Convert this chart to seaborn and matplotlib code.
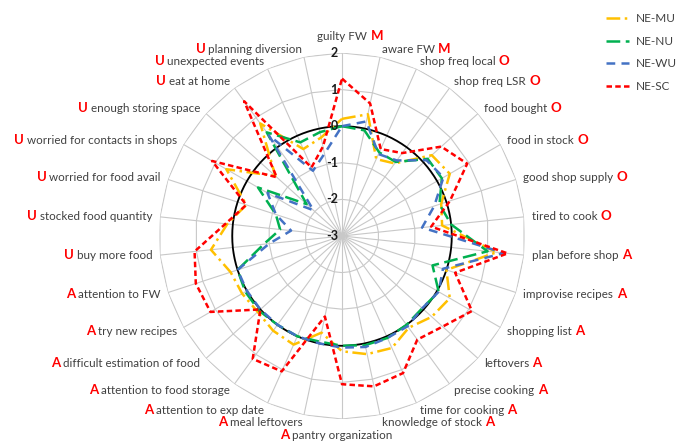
import numpy as np
import pandas as pd
import matplotlib
matplotlib.use("Agg")
import matplotlib.pyplot as plt
from matplotlib.lines import Line2D
import seaborn as sns

categories = ["guilty FW", "aware FW", "shop freq local", "shop freq LSR", "food bought",
              "food in stock", "good shop supply", "tired to cook", "plan before shop",
              "improvise recipes", "shopping list", "leftovers", "precise cooking",
              "time for cooking", "knowledge of stock", "pantry organization",
              "meal leftovers", "attention to exp date", "attention to food storage",
              "difficult estimation of food", "try new recipes", "attention to FW",
              "buy more food", "stocked food quantity", "worried for food avail",
              "worried for contacts in shops", "enough storing space", "eat at home",
              "unexpected events", "planning diversion"]
groups = ["M", "M", "O", "O", "O", "O", "O", "O",
          "A", "A", "A", "A", "A", "A", "A", "A", "A", "A", "A", "A", "A", "A",
          "U", "U", "U", "U", "U", "U", "U", "U"]

ne_mu = [0.2, 0.4, -0.7, -0.55, 0.3, 0.4, -0.15, -0.25, 1.25, 0.0, 0.4, 0.3, 0.1, 0.35, 0.3,
         0.15, -0.3, 0.25, 0.2, 0.1, 0.15, 0.2, 0.6, 0.15, -0.25, 0.65, -0.55, 0.8, -0.4, -0.25]
ne_nu = [0.0, -0.05, -0.5, -0.5, 0.15, 0.15, -0.2, 0.0, 1.0, -0.4, 0.05, -0.05, 0.0, 0.05, 0.05,
         0.0, -0.05, 0.0, 0.0, 0.05, 0.05, 0.0, -0.85, -1.3, -1.1, -0.35, -1.7, 0.5, -0.2, -0.1]
ne_wu = [0.0, 0.2, -0.55, -0.45, 0.1, 0.2, -0.35, -0.8, 1.45, -0.1, 0.05, -0.05, 0.05, 0.05, 0.1,
         0.05, 0.0, 0.0, 0.0, 0.0, 0.0, 0.0, -1.0, -1.6, -1.1, -0.65, -1.95, 0.4, -1.05, -0.7]
ne_sc = [1.3, 0.7, -0.4, -0.2, 0.65, 0.95, 0.1, -0.55, 1.55, 0.25, 1.1, 0.7, 0.5, 1.1, 1.2,
         1.05, -0.75, 1.05, 1.15, 0.0, 1.15, 1.2, 1.05, 0.2, -0.25, 1.1, -0.6, 1.55, -0.95, -0.5]

series = {"NE-MU": ne_mu, "NE-NU": ne_nu, "NE-WU": ne_wu, "NE-SC": ne_sc}
colors = {"NE-MU": "#FFC000", "NE-NU": "#00B050", "NE-WU": "#4472C4", "NE-SC": "#FF0000"}
dashes = {"NE-MU": (5.5, 1.8, 1, 1.8), "NE-NU": (5.5, 2.2), "NE-WU": (3.5, 2.5), "NE-SC": (2.2, 1.3)}

n = len(categories)
theta = np.arange(n) * 2 * np.pi / n

rows = []
for name, vals in series.items():
    for t, v in zip(theta, vals):
        rows.append((name, t, v))
    rows.append((name, 2 * np.pi, vals[0]))  # close the loop
df = pd.DataFrame(rows, columns=["series", "theta", "value"])

sns.set_theme(style="white")
plt.rcParams["font.family"] = ["Lato", "DejaVu Sans"]

fig = plt.figure(figsize=(6.94, 4.43), dpi=100)
ax = fig.add_axes([0.2291, 0.0542, 0.5274, 0.8262], projection="polar")
ax.set_theta_zero_location("N")
ax.set_theta_direction(-1)

# polygon grid like excel radar
ring = np.append(theta, 2 * np.pi)
for lev in [-2, -1, 0, 1, 2]:
    ax.plot(ring, [lev] * len(ring), color="#c8c8c8", lw=0.8, zorder=0)
for t in theta:
    ax.plot([t, t], [-3, 2], color="#c8c8c8", lw=0.8, zorder=0)

circ = np.linspace(0, 2 * np.pi, 361)
ax.plot(circ, np.zeros_like(circ), color="black", lw=1.3, zorder=1)

sns.lineplot(data=df, x="theta", y="value", hue="series", style="series",
             palette=colors, dashes=dashes, sort=False, estimator=None,
             lw=1.8, legend=False, ax=ax, zorder=3)

ax.set_ylim(-3, 2)
ax.grid(False)
ax.spines["polar"].set_visible(False)
ax.set_xticks([])
ax.set_yticks([])
ax.set_xlabel("")
ax.set_ylabel("")

for lev in [-3, -2, -1, 0, 1, 2]:
    ax.annotate(str(lev), xy=(0, lev), xytext=(-3, 0), textcoords="offset points",
                ha="right", va="center", fontsize=9, fontweight="bold", color="#1a1a1a")

for t, lab, g in zip(theta, categories, groups):
    s, c = np.sin(t), np.cos(t)
    off = 5.5
    if s > 0.1:
        ha, va = "left", "center"
    elif s < -0.1:
        ha, va = "right", "center"
    else:
        ha = "center"
        va = "bottom" if c > 0 else "top"
        off = 8
    txt = ax.annotate(lab, xy=(t, 2), xytext=(off * s, off * c), textcoords="offset points",
                      ha=ha, va=va, fontsize=8.4, color="#404040")
    if s > 0.1 or (abs(s) <= 0.1 and c > 0):
        ax.annotate(g, xy=(1, 0.55), xycoords=txt, xytext=(2.5, 0), textcoords="offset points",
                    ha="left", va="center", fontsize=9.5, fontweight="bold", color="#FF0000")
    else:
        ax.annotate(g, xy=(0, 0.55), xycoords=txt, xytext=(-2, 0), textcoords="offset points",
                    ha="right", va="center", fontsize=9.5, fontweight="bold", color="#FF0000")

handles = [Line2D([], [], color=colors[k], lw=1.8, dashes=dashes[k]) for k in series]
fig.legend(handles, list(series), loc="upper left", bbox_to_anchor=(0.858, 0.995),
           frameon=False, fontsize=8.5, handlelength=1.9, labelspacing=1.0,
           handletextpad=0.6, labelcolor="#404040")

fig.savefig("out.png", dpi=100)
